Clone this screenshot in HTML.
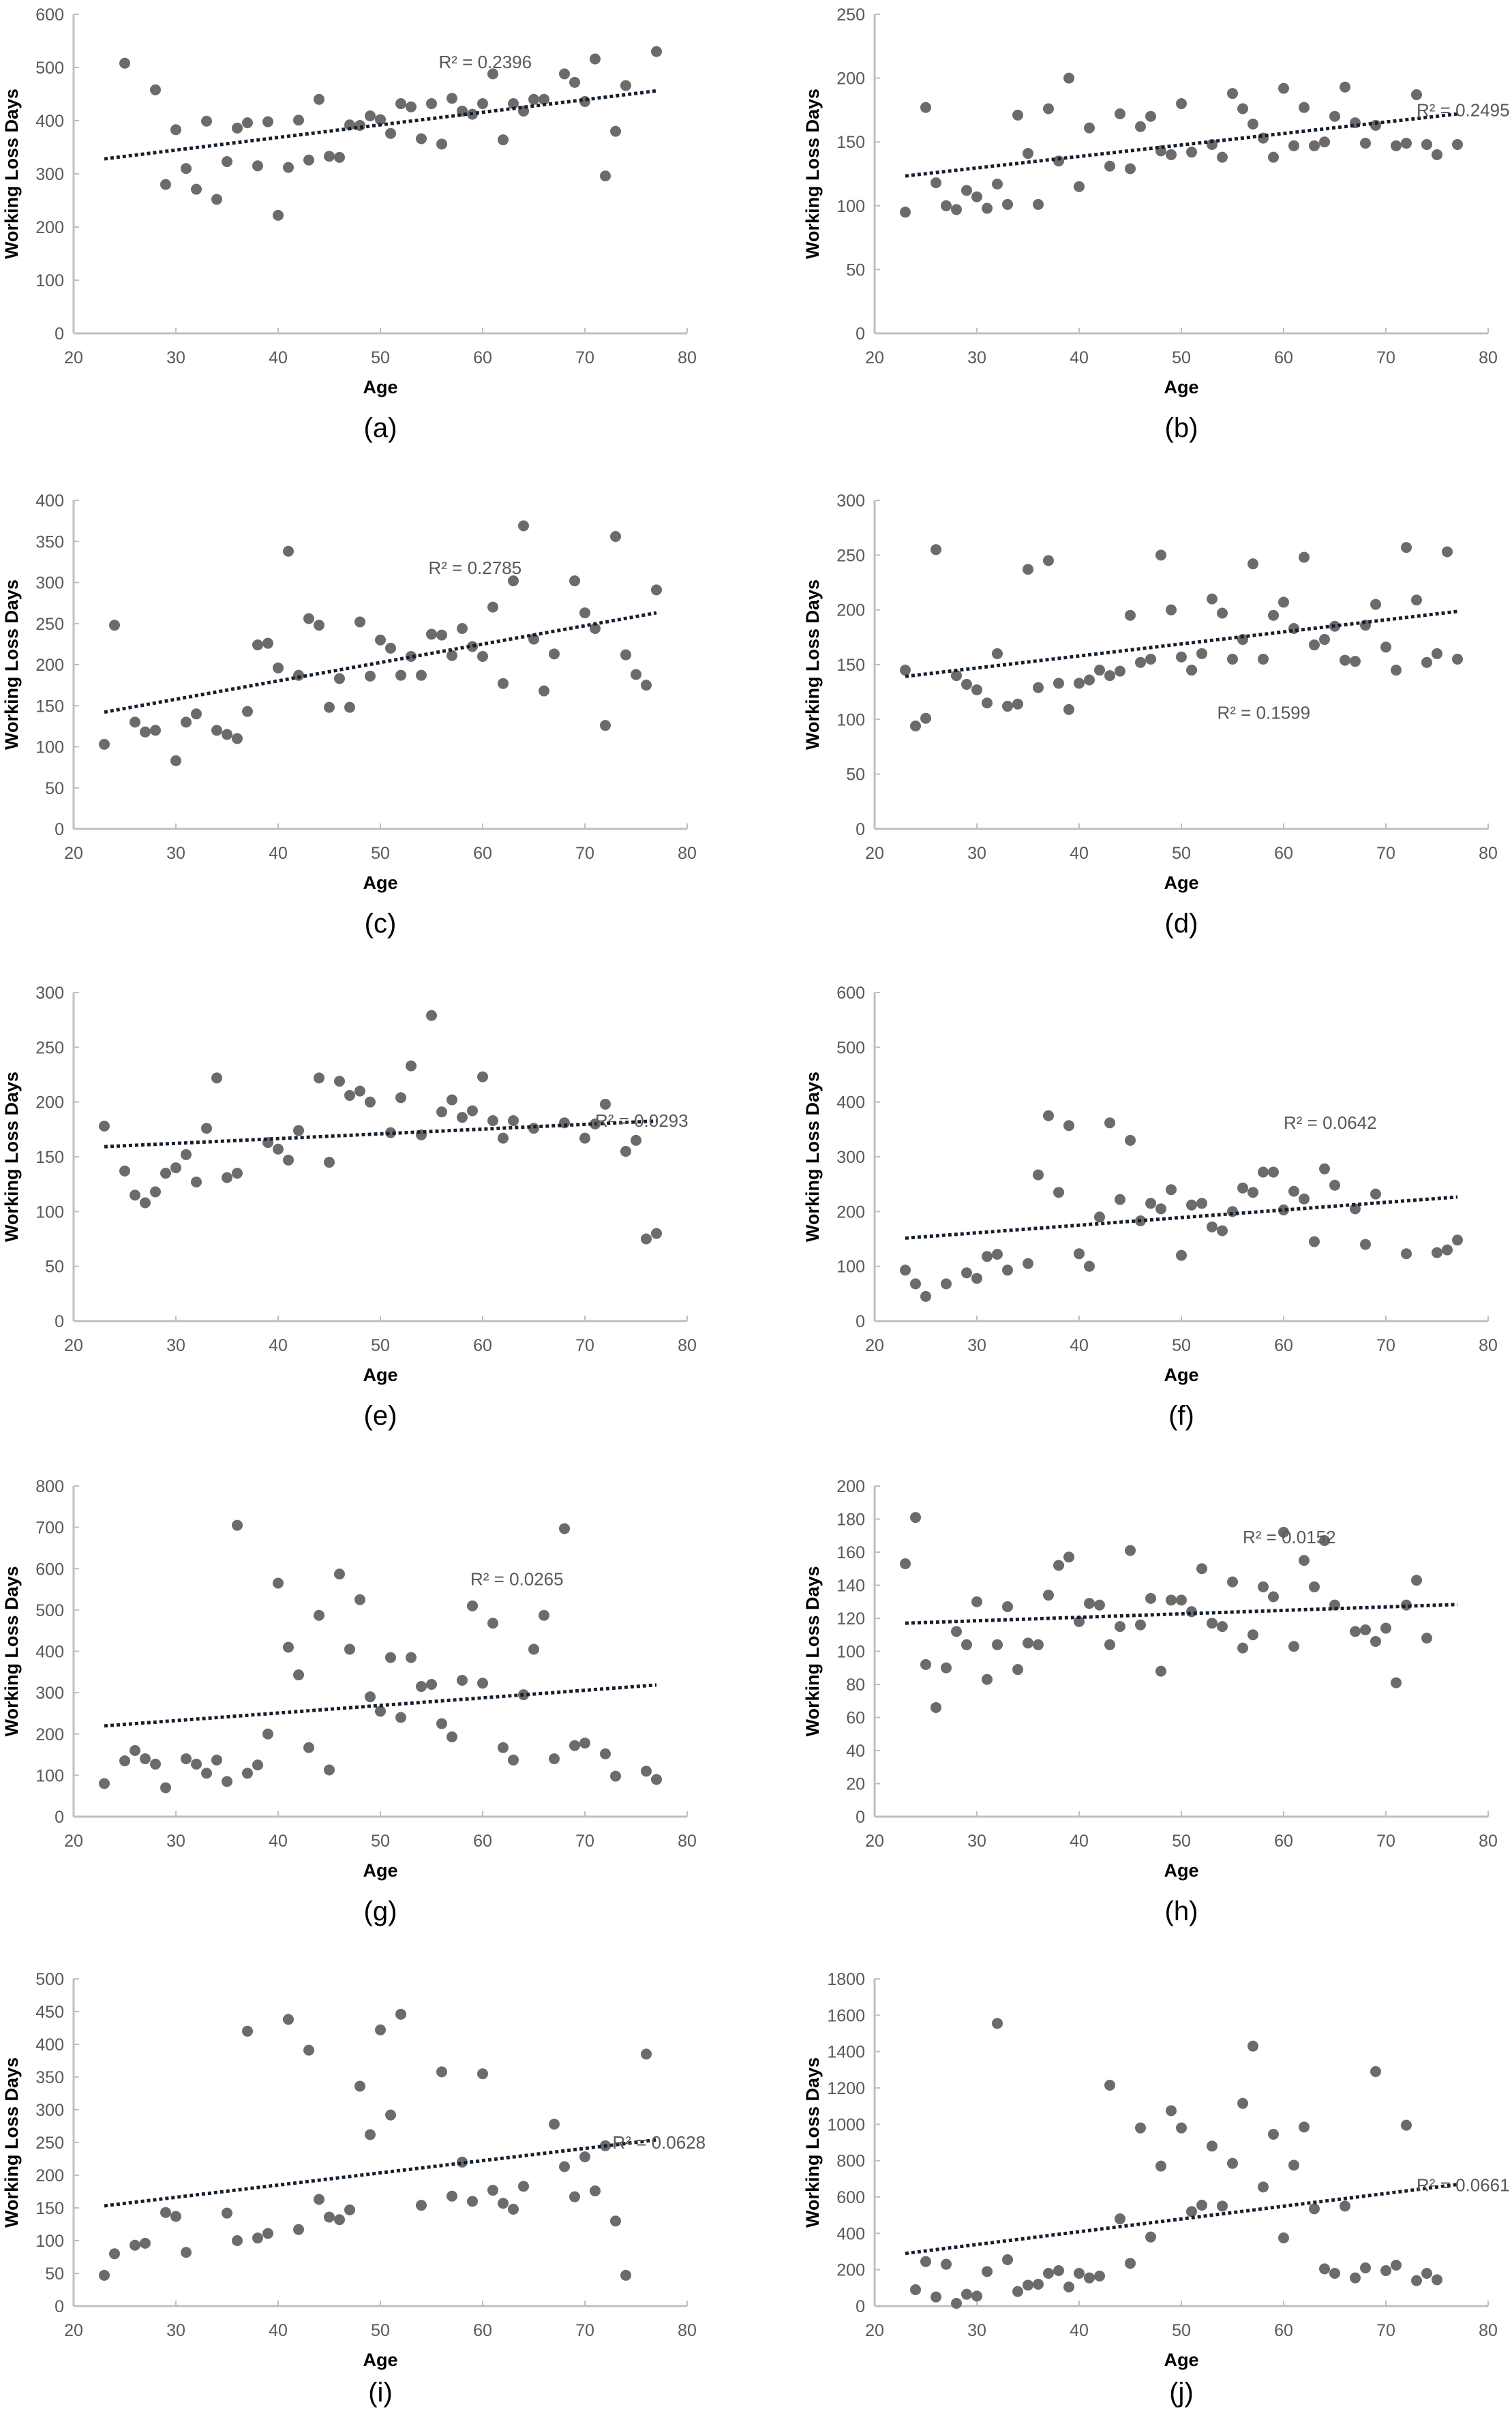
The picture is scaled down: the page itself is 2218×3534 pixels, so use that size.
<!DOCTYPE html>
<html><head><meta charset="utf-8">
<style>
html,body{margin:0;padding:0;background:#fff;}
svg{display:block;}
text{font-family:"Liberation Sans",Arial,sans-serif;}
</style></head>
<body>
<svg id="fig" xmlns="http://www.w3.org/2000/svg" width="2218" height="3534" viewBox="0 0 2218 3534"></svg>
<script>
// ---- data (age, working loss days) per panel ----
const panelLetters = ["a","b","c","d","e","f","g","h","i","j"];
const yMaxes = [600,250,400,300,300,600,800,200,500,1800];
const yStepCounts = [6,5,8,6,6,6,8,10,10,9];
const r2Labels = ["R² = 0.2396","R² = 0.2495","R² = 0.2785","R² = 0.1599","R² = 0.0293","R² = 0.0642","R² = 0.0265","R² = 0.0152","R² = 0.0628","R² = 0.0661"];
const r2Ages = [55.7,73,54.7,53.5,71,60,58.8,56,72.7,73];
const r2Values = [510,175,318,106,183,362,575,169,250,665];
const xTicks = [20,30,40,50,60,70,80];

const ageA=[25,28,29,30,31,32,33,34,35,36,37,38,39,40,41,42,43,44,45,46,47,48,49,50,51,52,53,54,55,56,57,58,59,60,61,62,63,64,65,66,68,69,70,71,72,73,74,77];
const daysA=[508,458,280,383,310,271,399,252,323,386,396,315,398,222,312,401,326,440,333,331,392,391,409,402,376,432,426,366,432,356,442,418,412,432,488,364,432,418,440,440,488,472,436,516,296,380,466,530];
const ageB=[23,25,26,27,28,29,30,31,32,33,34,35,36,37,38,39,40,41,43,44,45,46,47,48,49,50,51,53,54,55,56,57,58,59,60,61,62,63,64,65,66,67,68,69,71,72,73,74,75,77];
const daysB=[95,177,118,100,97,112,107,98,117,101,171,141,101,176,135,200,115,161,131,172,129,162,170,143,140,180,142,148,138,188,176,164,153,138,192,147,177,147,150,170,193,165,149,163,147,149,187,148,140,148];
const ageC=[23,24,26,27,28,30,31,32,34,35,36,37,38,39,40,41,42,43,44,45,46,47,48,49,50,51,52,53,54,55,56,57,58,59,60,61,62,63,64,65,66,67,69,70,71,72,73,74,75,76,77];
const daysC=[103,248,130,118,120,83,130,140,120,115,110,143,224,226,196,338,187,256,248,148,183,148,252,186,230,220,187,210,187,237,236,211,244,222,210,270,177,302,369,231,168,213,302,263,244,126,356,212,188,175,291];
const ageD=[23,24,25,26,28,29,30,31,32,33,34,35,36,37,38,39,40,41,42,43,44,45,46,47,48,49,50,51,52,53,54,55,56,57,58,59,60,61,62,63,64,65,66,67,68,69,70,71,72,73,74,75,76,77];
const daysD=[145,94,101,255,140,132,127,115,160,112,114,237,129,245,133,109,133,136,145,140,144,195,152,155,250,200,157,145,160,210,197,155,173,242,155,195,207,183,248,168,173,185,154,153,186,205,166,145,257,209,152,160,253,155];
const ageE=[23,25,26,27,28,29,30,31,32,33,34,35,36,39,40,41,42,44,45,46,47,48,49,51,52,53,54,55,56,57,58,59,60,61,62,63,65,68,70,71,72,74,75,76,77];
const daysE=[178,137,115,108,118,135,140,152,127,176,222,131,135,163,157,147,174,222,145,219,206,210,200,172,204,233,170,279,191,202,186,192,223,183,167,183,176,181,167,180,198,155,165,75,80];
const ageF=[23,24,25,27,29,30,31,32,33,35,36,37,38,39,40,41,42,43,44,45,46,47,48,49,50,51,52,53,54,55,56,57,58,59,60,61,62,63,64,65,67,68,69,72,75,76,77];
const daysF=[93,68,45,68,88,78,118,122,93,105,267,375,235,357,123,100,190,362,222,330,183,215,205,240,120,212,215,172,165,200,243,235,272,272,203,237,223,145,278,248,205,140,232,123,125,130,148];
const ageG=[23,25,26,27,28,29,31,32,33,34,35,36,37,38,39,40,41,42,43,44,45,46,47,48,49,50,51,52,53,54,55,56,57,58,59,60,61,62,63,64,65,66,67,68,69,70,72,73,76,77];
const daysG=[80,135,160,140,127,70,140,127,105,137,85,705,105,125,200,565,410,343,167,487,113,587,405,525,290,255,385,240,385,315,320,225,193,330,510,323,468,167,137,295,405,487,140,697,172,178,152,98,110,90];
const ageH=[23,24,25,26,27,28,29,30,31,32,33,34,35,36,37,38,39,40,41,42,43,44,45,46,47,48,49,50,51,52,53,54,55,56,57,58,59,60,61,62,63,64,65,67,68,69,70,71,72,73,74];
const daysH=[153,181,92,66,90,112,104,130,83,104,127,89,105,104,134,152,157,118,129,128,104,115,161,116,132,88,131,131,124,150,117,115,142,102,110,139,133,172,103,155,139,167,128,112,113,106,114,81,128,143,108];
const ageI=[23,24,26,27,29,30,31,35,36,37,38,39,41,42,43,44,45,46,47,48,49,50,51,52,54,56,57,58,59,60,61,62,63,64,67,68,69,70,71,72,73,74,76];
const daysI=[47,80,93,96,143,137,82,142,100,420,104,111,438,117,391,163,136,132,147,336,262,422,292,446,154,358,168,220,160,355,177,157,148,183,278,213,167,228,176,245,130,47,385];
const ageJ=[24,25,26,27,28,29,30,31,32,33,34,35,36,37,38,39,40,41,42,43,44,45,46,47,48,49,50,51,52,53,54,55,56,57,58,59,60,61,62,63,64,65,66,67,68,69,70,71,72,73,74,75];
const daysJ=[90,245,50,230,15,65,55,190,1555,255,80,115,120,180,195,105,180,155,165,1215,480,235,980,380,770,1075,980,520,555,880,550,785,1115,1430,655,945,375,775,985,535,205,180,550,155,210,1290,195,225,995,140,180,145];

const ageSeries=[ageA,ageB,ageC,ageD,ageE,ageF,ageG,ageH,ageI,ageJ];
const daySeries=[daysA,daysB,daysC,daysD,daysE,daysF,daysG,daysH,daysI,daysJ];

// ---- layout ----
const NS="http://www.w3.org/2000/svg";
const fig=document.getElementById("fig");
const colLeft=[108,1283];
const plotW=900;
const rowTop=[21,734,1456,2180,2903];
const rowBot=[489,1216,1938,2665,3383];

function mk(tag,attrs,parent){const e=document.createElementNS(NS,tag);for(const k in attrs)e.setAttribute(k,attrs[k]);(parent||fig).appendChild(e);return e;}

for(let p=0;p<10;p++){
  const col=p%2,row=Math.floor(p/2);
  const x0=colLeft[col],x1=x0+plotW,yT=rowTop[row],yB=rowBot[row];
  const ymax=yMaxes[p];
  const sx=a=>x0+(a-20)/60*plotW;
  const sy=v=>yB-(v/ymax)*(yB-yT);
  const g=mk("g",{});
  
  
  // axes
  const ya=mk("line",{x1:x0,y1:yT,x2:x0,y2:yB,stroke:"#bfbfbf","stroke-width":3},g);
  
  
  const xa=mk("line",{x1:x0,y1:yB,x2:x1,y2:yB,stroke:"#bfbfbf","stroke-width":3},g);
  
  
  const n=yStepCounts[p];
  for(let i=0;i<=n;i++){
    const v=ymax/n*i,y=sy(v);
    mk("line",{x1:x0,y1:y,x2:x0+8,y2:y,stroke:"#bfbfbf","stroke-width":2},g);
    const t=mk("text",{x:x0-14,y:y+9,"text-anchor":"end","font-size":25,fill:"#595959"},g);
    t.textContent=String(Math.round(v));
    
    
  }
  xTicks.forEach(a=>{
    const x=sx(a);
    mk("line",{x1:x,y1:yB,x2:x,y2:yB-8,stroke:"#bfbfbf","stroke-width":2},g);
    const t=mk("text",{x:x,y:yB+44,"text-anchor":"middle","font-size":25,fill:"#595959"},g);
    t.textContent=String(a);
    
    
  });
  // axis titles
  const yt=mk("text",{x:0,y:0,"text-anchor":"middle","font-size":27,"font-weight":"bold",fill:"#000",
    transform:`translate(${x0-82},${(yT+yB)/2}) rotate(-90)`},g);
  yt.textContent="Working Loss Days";
  
  
  const xt=mk("text",{x:(x0+x1)/2,y:yB+88,"text-anchor":"middle","font-size":27,"font-weight":"bold",fill:"#000"},g);
  xt.textContent="Age";
  
  
  const cap=mk("text",{x:(x0+x1)/2,y:yB+(row===4?140:152),"text-anchor":"middle","font-size":40,fill:"#000"},g);
  cap.textContent="("+panelLetters[p]+")";
  
  
  // points
  const ages=ageSeries[p],days=daySeries[p];
  for(let i=0;i<ages.length;i++){
    const c=mk("circle",{cx:sx(ages[i]),cy:sy(days[i]),r:8,fill:"#6b6b6b"},g);
    
    
  }
  // trendline (least squares)
  let mx=0,my=0;for(let i=0;i<ages.length;i++){mx+=ages[i];my+=days[i];}
  mx/=ages.length;my/=ages.length;
  let sxy=0,sxx=0;for(let i=0;i<ages.length;i++){sxy+=(ages[i]-mx)*(days[i]-my);sxx+=(ages[i]-mx)**2;}
  const b=sxy/sxx,a0=my-b*mx;
  const tl=mk("line",{x1:sx(23),y1:sy(a0+b*23),x2:sx(77),y2:sy(a0+b*77),stroke:"#15202e","stroke-width":5,"stroke-dasharray":"5 4"},g);
  
  
  const rl=mk("text",{x:sx(r2Ages[p]),y:sy(r2Values[p])+9,"font-size":26,fill:"#595959"},g);
  rl.textContent=r2Labels[p];
  
  
}
</script>
</body></html>
